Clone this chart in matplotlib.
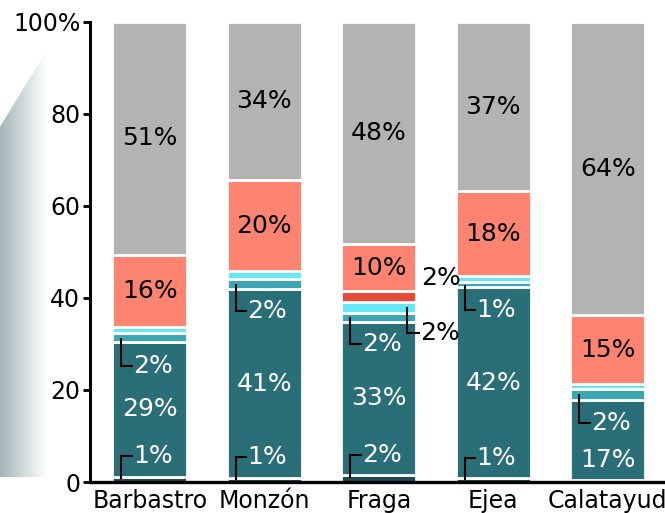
import numpy as np
import matplotlib
matplotlib.use("Agg")
import matplotlib.pyplot as plt
from matplotlib.colors import LinearSegmentedColormap
from matplotlib.patches import Polygon

# data (percent of total per town)
categories = ['Barbastro', 'Monzón', 'Fraga', 'Ejea', 'Calatayud']
dark = [1.1, 0.8, 1.6, 0.8, 0.5]
teal = [29.4, 41.2, 33.2, 41.6, 17.4]
mid = [1.8, 2.2, 2.0, 1.0, 2.3]
cyan = [1.5, 1.6, 2.4, 1.4, 1.2]
red = [0, 0, 2.3, 0, 0]
salmon = [15.6, 19.8, 10.2, 18.4, 14.8]
grey = [50.6, 34.4, 48.3, 36.8, 63.8]
yticks = [0, 20, 40, 60, 80, 100]
yticklabels = ['0', '20', '40', '60', '80', '100%']

series = [dark, teal, mid, cyan, red, salmon, grey]
colors = ['#1d4c52', '#2a6f78', '#3ba7b4', '#66e7f5', '#e64c35', '#fe8471', '#b3b3b3']

# labels in the middle of the big segments: (series index, text colour)
center_labels = [(1, 'white'), (5, 'black'), (6, 'black')]
center_shift = {(4, 1): -4.4}

# callouts: bar, series index, label y, side, text colour
callouts = [
    (0, 2, 25.2, 'left', 'white'), (0, 0, 5.7, 'left', 'white'),
    (1, 2, 37.2, 'left', 'white'), (1, 0, 5.5, 'left', 'white'),
    (2, 2, 30.0, 'left', 'white'), (2, 0, 5.9, 'left', 'white'),
    (2, 3, 32.4, 'right', 'black'),
    (3, 2, 37.4, 'left', 'white'), (3, 0, 5.3, 'left', 'white'),
    (4, 2, 12.9, 'left', 'white'),
]
plain_labels = [(2, 4, 44.3)]

fig = plt.figure(figsize=(6.65, 5.13), dpi=100)

# gradient decoration on the left
bg = fig.add_axes([0, 1 - 477 / 513, 47 / 665, 427 / 513])
bg.axis('off')
cmap = LinearSegmentedColormap.from_list('g', ['#a2b5b8', '#ffffff'])
grad = np.linspace(0, 1, 256).reshape(1, -1)
im = bg.imshow(grad, cmap=cmap, extent=[0, 1, 0, 1], aspect='auto')
clip = Polygon([(0, 0), (1, 0), (1, 1), (0, 0.82)], closed=True,
               transform=bg.transAxes, facecolor='none', edgecolor='none')
bg.add_patch(clip)
im.set_clip_path(clip)
bg.set_xlim(0, 1)
bg.set_ylim(0, 1)

ax = fig.add_axes([90 / 665, 1 - 482 / 513, 575 / 665, 460 / 513])
x = np.arange(len(categories))
width = 0.655

bottoms = np.zeros(len(categories))
starts = []
for vals, col in zip(series, colors):
    vals = np.array(vals, dtype=float)
    starts.append(bottoms.copy())
    mask = vals > 0
    ax.bar(x[mask], vals[mask], width, bottom=bottoms[mask], color=col,
           edgecolor='white', linewidth=2, zorder=2)
    bottoms = bottoms + vals

for si, tc in center_labels:
    for i in range(len(categories)):
        v = series[si][i]
        y = starts[si][i] + v / 2 + center_shift.get((i, si), 0)
        ax.text(x[i], y, f'{round(v)}%', ha='center', va='center',
                color=tc, fontsize=18, zorder=4)

for i, si, ly, side, tc in callouts:
    v = series[si][i]
    ys = starts[si][i] + v / 2
    if side == 'left':
        xl, xt = x[i] - 0.25, x[i] - 0.15
    else:
        xl, xt = x[i] + 0.25, x[i] + 0.36
    ax.plot([xl, xl, xt], [ys, ly, ly], color='black', lw=1.5, zorder=3,
            solid_capstyle='butt', solid_joinstyle='miter')
    ax.text(xt + 0.003, ly, f'{round(v)}%', ha='left', va='center', color=tc,
            fontsize=18, zorder=4)

for i, si, ly in plain_labels:
    v = series[si][i]
    ax.text(x[i] + 0.37, ly, f'{round(v)}%', ha='left', va='center',
            color='black', fontsize=18, zorder=4)

ax.set_xlim(-0.524, 4.5)
ax.set_ylim(0, 100)
ax.set_yticks(yticks)
ax.set_yticklabels(yticklabels)
ax.set_xticks(x)
ax.set_xticklabels(categories)
ax.tick_params(axis='y', direction='out', length=5, width=2, labelsize=17, pad=2)
ax.tick_params(axis='x', length=0, labelsize=17, pad=5)
for s in ['top', 'right']:
    ax.spines[s].set_visible(False)
ax.spines['left'].set_linewidth(2.2)
ax.spines['bottom'].set_linewidth(2.4)
ax.set_facecolor('none')

fig.savefig('out.png', dpi=100)
